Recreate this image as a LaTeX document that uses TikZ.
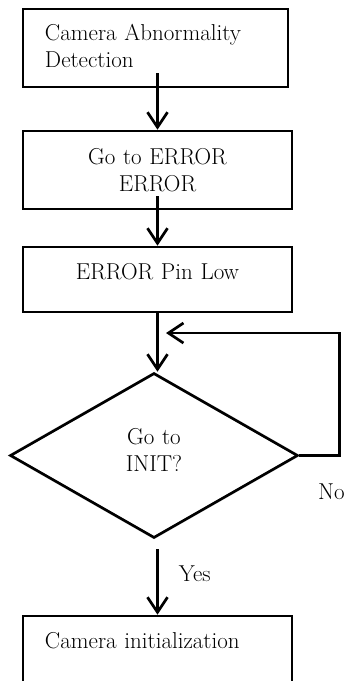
\documentclass[tikz,border=0pt]{standalone}
\usepackage{tikz}
\usetikzlibrary{shapes.geometric,arrows.meta,positioning}

\begin{document}
\begin{tikzpicture}[x=1pt, y=-1pt,
        every node/.style={font=\fontsize{23}{26.5}\selectfont},
        box/.style={draw, rectangle, line width=2.7pt, inner xsep=22pt, inner ysep=0pt,
            text width=225pt, align=center, text height=32.5pt, text depth=32.5pt},
        decision/.style={draw, diamond, line width=2.7pt, inner sep=0pt,
            minimum width=288pt, minimum height=165pt, text width=90pt, align=center,
            text height=10pt, text depth=32pt},
        lbl/.style={inner sep=0pt},
        flow/.style={line width=2.7pt, -{Straight Barb[length=15pt,width=20pt]}}]
    \useasboundingbox (0,0) rectangle (344,681);
    % boxes
    \node[box, text width=221pt, align=left, text height=31.5pt, text depth=46.5pt]
        (detect) at (155.5,48) {Camera Abnormality\\Detection};
    \node[box, text height=33.5pt, text depth=44.5pt] (gotoerr) at (157.5,170) {Go to ERROR\\ERROR};
    \node[box] (pinlow) at (157.5,279.5) {ERROR Pin Low};
    \node[decision] (init) at (154,455.5) {Go to\\INIT?};
    \node[box, align=left, text depth=37.5pt] (caminit) at (157.5,651) {Camera initialization};
    \coordinate (back) at (166,333);
    % connectors
    \draw[flow] ([xshift=2pt,yshift=15pt]detect.south) -- (gotoerr.north);
    \draw[flow] ([yshift=14pt]gotoerr.south) -- (pinlow.north);
    \draw[flow] (pinlow.south) -- (pinlow.south |- init.north);
    \draw[flow] (init.east) -- node[lbl, pos=.8, yshift=-36pt] (no) {No} ++(40,0) |- (back);
    \draw[flow] (init.south -| caminit.north) ++(0,10) -- node[lbl, pos=.37, right=20pt] (yes) {Yes} (caminit.north);
\end{tikzpicture}
\end{document}
